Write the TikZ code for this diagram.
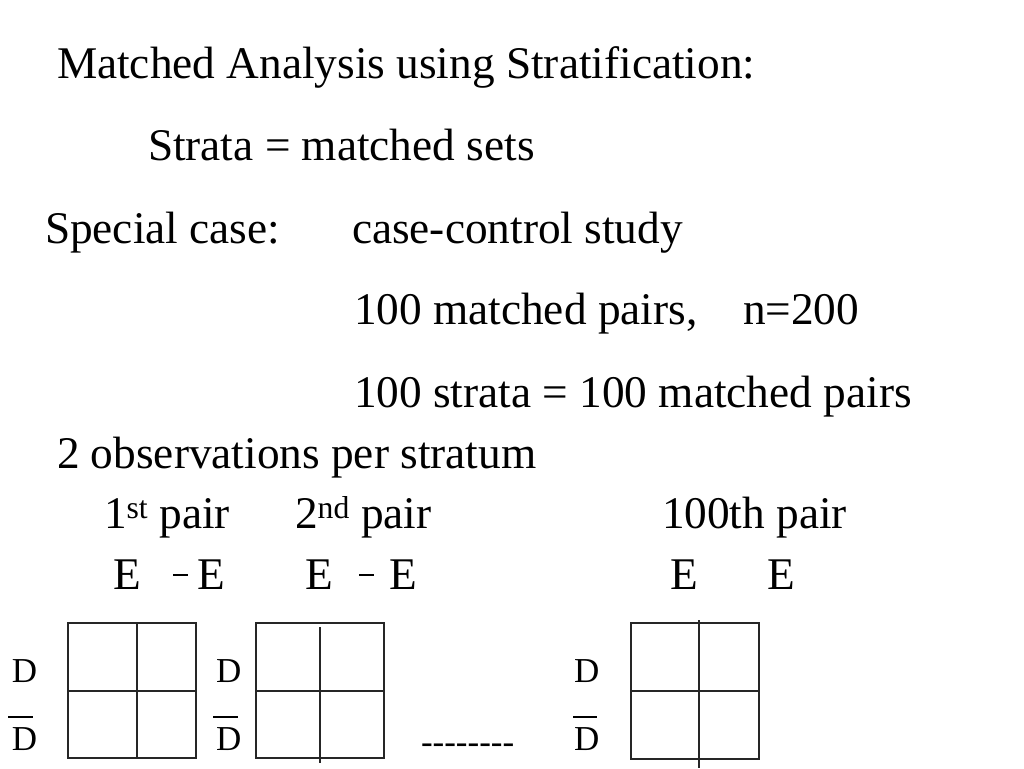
\documentclass[tikz,border=0pt]{standalone}
\usepackage{fontspec}
\setmainfont{Liberation Serif}
\begin{document}
\begin{tikzpicture}[x=1pt,y=-1pt,
  txt/.style={anchor=base west,inner sep=0pt,outer sep=0pt,font=\fontsize{45.3}{54}\selectfont},
  lbl/.style={anchor=base west,inner sep=0pt,outer sep=0pt,font=\fontsize{35}{42}\selectfont},
  tabline/.style={draw=black!85,line width=1.3pt},
  bar/.style={draw=black,line width=1.1pt}]
\useasboundingbox[fill=white] (0,0) rectangle (1024,768);
% text lines
\node[txt] (t1) at (57,78) {Matched Analysis using Stratification:};
\node[txt] (t2) at (148,160) {Strata = matched sets};
\node[txt] (t3) at (45,243) {Special case:};
\node[txt] (t4) at (352,243) {case-control study};
\node[txt] (t5) at (354,324) {100 matched pairs,};
\node[txt] (t5b) at (743,324) {n=200};
\node[txt] (t6) at (354,407) {100 strata = 100 matched pairs};
\node[txt] (t7) at (57,468) {2 observations per stratum};
% pair headers
\node[txt] (p1) at (104,528) {1\textsuperscript{st} pair};
\node[txt] (p2) at (295,528) {2\textsuperscript{nd} pair};
\node[txt] (p3) at (662,528) {100th pair};
% E labels
\node[txt] (e1) at (113,589) {E};
\node[txt] (e2) at (197,589) {E};
\node[txt] (e3) at (305,589) {E};
\node[txt] (e4) at (389,589) {E};
\node[txt] (e5) at (670,589) {E};
\node[txt] (e6) at (767,589) {E};
\draw[bar] (173,575) -- (188,575);
\draw[bar] (359,575) -- (374,575);
% D labels
\node[lbl] (d1) at (12,682) {D};
\node[lbl] (db1) at (12,750) {D};
\draw[bar] (8,717) -- (33,717);
\node[lbl] (d2) at (216,682) {D};
\node[lbl] (db2) at (216,750) {D};
\draw[bar] (213,717) -- (238,717);
\node[lbl] (d3) at (574,682) {D};
\node[lbl] (db3) at (574,750) {D};
\draw[bar] (573,717) -- (597,717);
% dashes
\node[lbl] (dots) at (421,753) {\mbox{-}\mbox{-}\mbox{-}\mbox{-}\mbox{-}\mbox{-}\mbox{-}\mbox{-}};
% table 1
\draw[tabline] (68,623) rectangle (196,758);
\draw[tabline] (68,691) -- (196,691);
\draw[tabline] (137,623) -- (137,758);
% table 2
\draw[tabline] (256,623) rectangle (384,758);
\draw[tabline] (256,691) -- (384,691);
\draw[tabline] (320,627) -- (320,763);
% table 3
\draw[tabline] (631,623) rectangle (759,759);
\draw[tabline] (631,691) -- (759,691);
\draw[tabline] (699,620) -- (699,768);
\end{tikzpicture}
\end{document}
